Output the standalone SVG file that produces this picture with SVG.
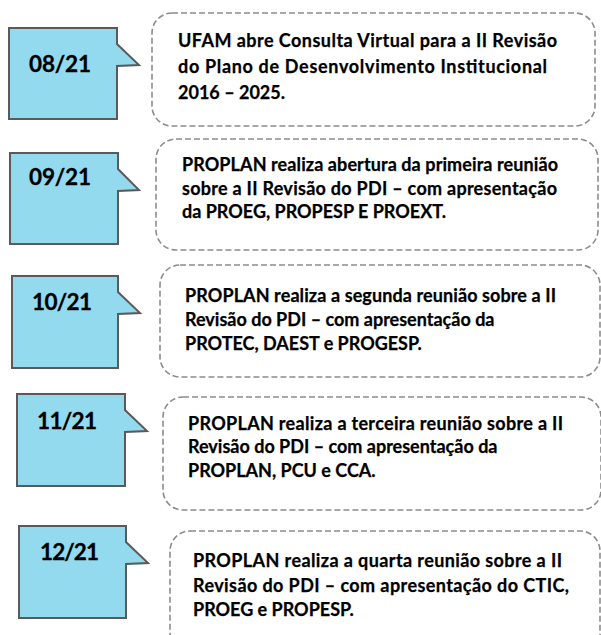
<svg xmlns="http://www.w3.org/2000/svg" width="601" height="635" viewBox="0 0 601 635">
<style>
.bg{fill:#ffffff}
.callout{fill:#93DAEF;stroke:#5a5a5a;stroke-width:2;stroke-linejoin:miter}
.box{fill:#ffffff;stroke:#8c8c8c;stroke-width:1.6;stroke-dasharray:6 3}
.date{font-family:Lato,"Liberation Sans",sans-serif;font-weight:bold;font-size:22.5px;fill:#000;stroke:#000;stroke-width:0.3}
.txt{font-family:Lato,"Liberation Sans",sans-serif;font-weight:bold;font-size:18px;fill:#000;stroke:#000;stroke-width:0.25}
</style>
<rect class="bg" x="0" y="0" width="601" height="635"/>
<g id="item1">
<path class="callout" d="M9,28 H117 V44 L139,65 L117,66 V119 H9 Z"/>
<text class="date" x="29" y="72" textLength="62">08/21</text>
<rect class="box" x="152" y="13" width="443" height="113" rx="20" ry="20"/>
<text class="txt" x="178" y="47" textLength="379">UFAM abre Consulta Virtual para a II Revisão</text>
<text class="txt" x="178" y="73" textLength="369">do Plano de Desenvolvimento Institucional</text>
<text class="txt" x="178" y="99">2016 – 2025.</text>
</g>
<g id="item2">
<path class="callout" d="M10,153 H118 V169 L139,190 L118,191 V244 H10 Z"/>
<text class="date" x="29" y="185" textLength="62">09/21</text>
<rect class="box" x="156" y="139" width="442" height="111" rx="20" ry="20"/>
<text class="txt" x="182" y="171" textLength="376">PROPLAN realiza abertura da primeira reunião</text>
<text class="txt" x="182" y="195" textLength="375">sobre a II Revisão do PDI – com apresentação</text>
<text class="txt" x="182" y="218">da PROEG, PROPESP E PROEXT.</text>
</g>
<g id="item3">
<path class="callout" d="M12,276 H118 V292 L140,313 L118,314 V368 H12 Z"/>
<text class="date" x="32" y="310" textLength="60">10/21</text>
<rect class="box" x="160" y="265" width="440" height="112" rx="20" ry="20"/>
<text class="txt" x="185" y="302" textLength="371">PROPLAN realiza a segunda reunião sobre a II</text>
<text class="txt" x="185" y="326">Revisão do PDI – com apresentação da</text>
<text class="txt" x="185" y="350">PROTEC, DAEST e PROGESP.</text>
</g>
<g id="item4">
<path class="callout" d="M17,394 H125 V410 L147,431 L125,432 V486 H17 Z"/>
<text class="date" x="37" y="429" textLength="60">11/21</text>
<rect class="box" x="163" y="397" width="438" height="113" rx="20" ry="20"/>
<text class="txt" x="188" y="430" textLength="375">PROPLAN realiza a terceira reunião sobre a II</text>
<text class="txt" x="188" y="453">Revisão do PDI – com apresentação da</text>
<text class="txt" x="188" y="477">PROPLAN, PCU e CCA.</text>
</g>
<g id="item5">
<path class="callout" d="M19,526 H126 V542 L148,563 L126,564 V618 H19 Z"/>
<text class="date" x="40" y="560" textLength="59">12/21</text>
<rect class="box" x="170" y="531" width="430" height="124" rx="20" ry="20"/>
<text class="txt" x="193" y="567" textLength="369">PROPLAN realiza a quarta reunião sobre a II</text>
<text class="txt" x="193" y="592" textLength="376">Revisão do PDI – com apresentação do CTIC,</text>
<text class="txt" x="193" y="616">PROEG e PROPESP.</text>
</g>
<g id="connectors"></g>
</svg>
